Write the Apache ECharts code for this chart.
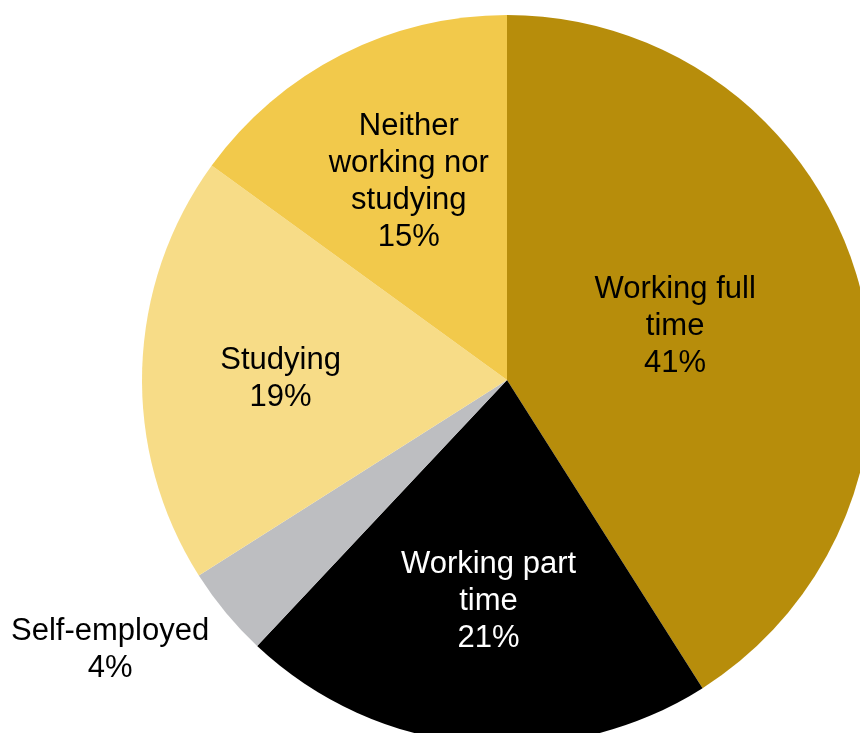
<!DOCTYPE html>
<html>
<head>
<meta charset="utf-8">
<script src="https://cdn.jsdelivr.net/npm/echarts@6/dist/echarts.min.js"></script>
<style>
  html, body { margin: 0; padding: 0; background: #fff; }
  #chart { width: 860px; height: 733px; }
</style>
</head>
<body>
<div id="chart"></div>
<script>
const categories = ['Working full time', 'Working part time', 'Self-employed', 'Studying', 'Neither working nor studying']
const shares = [41, 21, 4, 19, 15]
// how each label is broken into lines
const labelNames = ['Working full\ntime', 'Working part\ntime', 'Self-employed', 'Studying', 'Neither\nworking nor\nstudying']
const colors = ['#B78D0B', '#000000', '#BDBEC1', '#F7DC87', '#F2C94B']

// nudges from the default inside label spot, px
const labelShift = [[-10, -2], [-1, 37], [-254, 152], [-41, 5], [-14, -33]]

const chart = echarts.init(document.getElementById('chart'))

chart.setOption({
  animation: false,
  series: [{
    type: 'pie',
    center: [507, 380],
    radius: 365,
    startAngle: 90,
    clockwise: true,
    avoidLabelOverlap: false,
    silent: true,
    label: {
      show: true,
      position: 'inside',
      fontFamily: 'Liberation Sans, Arial, sans-serif',
      fontSize: 31,
      lineHeight: 37,
      color: '#000',
      formatter: p => labelNames[p.dataIndex] + '\n' + p.value + '%'
    },
    labelLine: { show: false },
    labelLayout: p => ({ dx: labelShift[p.dataIndex][0], dy: labelShift[p.dataIndex][1] }),
    data: categories.map((name, i) => ({
      name,
      value: shares[i],
      itemStyle: { color: colors[i] },
      label: i === 1 ? { color: '#fff' } : undefined
    }))
  }]
})
</script>
</body>
</html>
